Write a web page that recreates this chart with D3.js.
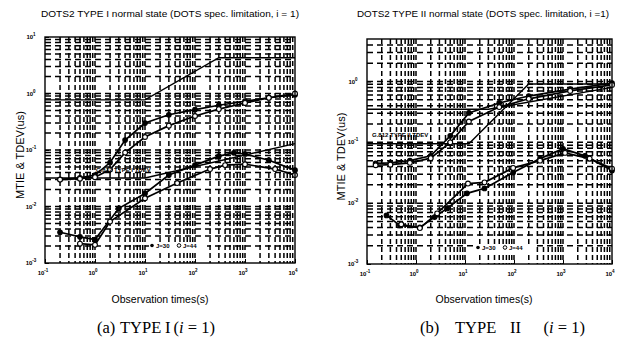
<!DOCTYPE html>
<html>
<head>
<meta charset="utf-8">
<script src="https://cdn.jsdelivr.net/npm/d3@7"></script>
<style>
  html, body { margin: 0; padding: 0; background: #fff; }
  svg { display: block; }
</style>
</head>
<body>
<svg id="chart" width="629" height="344"></svg>
<script>
// Observation-time ticks shared by both panels (seconds)
const xTickValues = [0.1, 1, 10, 100, 1000, 10000];
const xTickExponents = ["-1", "0", "1", "2", "3", "4"];

// ---- TYPE I (i = 1) ----
const t1YTickValues = [0.001, 0.01, 0.1, 1, 10];
const t1YTickExponents = ["-3", "-2", "-1", "0", "1"];

const t1MtieMaskTau = [0.1, 10, 300, 10000];
const t1MtieMask = [0.77, 0.77, 4.3, 4.3];
const t1TdevMaskTau = [0.1, 10, 10000];
const t1TdevMask = [0.032, 0.032, 0.13];

const t1MtieTau = [0.2, 0.5, 1, 2, 4, 10, 30, 100, 300, 1000, 3000, 10000];
const t1MtieJ30 = [0.03, 0.032, 0.036, 0.06, 0.15, 0.3, 0.42, 0.52, 0.62, 0.73, 0.84, 0.95];
const t1MtieJ44 = [0.03, 0.031, 0.033, 0.045, 0.09, 0.17, 0.27, 0.4, 0.53, 0.68, 0.84, 1.0];

const t1TdevJ30Tau = [0.2, 0.5, 1, 3, 10, 30, 100, 300, 600, 1000, 3000, 10000];
const t1TdevJ30 = [0.0035, 0.0029, 0.0026, 0.0093, 0.017, 0.036, 0.054, 0.078, 0.089, 0.085, 0.066, 0.044];
const t1TdevJ44Tau = [0.5, 1, 2, 10, 44, 200, 400, 1000, 4000, 10000];
const t1TdevJ44 = [0.0022, 0.0021, 0.0054, 0.014, 0.026, 0.046, 0.054, 0.056, 0.046, 0.036];

// ---- TYPE II (i = 1) ----
const t2YTickValues = [0.001, 0.01, 0.1, 1];
const t2YTickExponents = ["-3", "-2", "-1", "0"];

const t2MtieMaskTau = [0.1, 30, 10000];
const t2MtieMask = [0.35, 0.35, 0.8];
const t2TdevMaskTau = [0.1, 12, 200, 10000];
const t2TdevMask = [0.095, 0.095, 0.91, 0.91];

const t2MtieTau = [0.15, 0.3, 0.75, 2, 5, 12, 50, 200, 1400, 10000];
const t2MtieJ30 = [0.045, 0.046, 0.05, 0.06, 0.128, 0.305, 0.444, 0.577, 0.75, 0.94];
const t2MtieJ44 = [0.042, 0.043, 0.046, 0.055, 0.1, 0.22, 0.38, 0.52, 0.7, 0.88];

const t2TdevJ30Tau = [0.25, 0.47, 1.2, 2.4, 4.3, 11, 25, 96, 340, 1000, 2800, 10000];
const t2TdevJ30 = [0.0063, 0.0043, 0.004, 0.0059, 0.0082, 0.0145, 0.0175, 0.0318, 0.054, 0.0785, 0.06, 0.0344];
const t2TdevJ44Tau = [0.5, 1.2, 2.7, 11.5, 25, 96, 340, 1100, 3500, 10000];
const t2TdevJ44 = [0.0045, 0.0039, 0.0068, 0.021, 0.022, 0.038, 0.05, 0.067, 0.054, 0.037];

const svg = d3.select("#chart");
const sansFont = "'Liberation Sans', Arial, sans-serif";
const serifFont = "'Liberation Serif', 'DejaVu Serif', serif";

function zip(xs, ys) { return xs.map((x, i) => [x, ys[i]]); }

function drawPanel(p) {
  const x = d3.scaleLog().domain([0.1, 10000]).range([p.left, p.right]);
  const y = d3.scaleLog().domain(p.yDomain).range([p.bottom, p.top]);
  const g = svg.append("g");

  // dotted grid at every 1..9 x 10^k
  const xGrid = [];
  for (let e = -1; e < 4; e++) for (let m = 1; m < 10; m++) xGrid.push(m * Math.pow(10, e));
  const yGrid = [];
  for (let e = -3; e < 1; e++) for (let m = 1; m < 10; m++) {
    const v = m * Math.pow(10, e);
    if (v > p.yDomain[0] && v < p.yDomain[1]) yGrid.push(v);
  }
  g.append("g").selectAll("line").data(xGrid.filter(v => v > 0.1)).join("line")
    .attr("x1", d => x(d)).attr("x2", d => x(d))
    .attr("y1", p.top).attr("y2", p.bottom)
    .attr("stroke", "#000").attr("stroke-width", 1.5)
    .attr("stroke-dasharray", "5,3");
  g.append("g").selectAll("line").data(yGrid).join("line")
    .attr("x1", p.left).attr("x2", p.right)
    .attr("y1", d => y(d)).attr("y2", d => y(d))
    .attr("stroke", "#000").attr("stroke-width", 1.5)
    .attr("stroke-dasharray", "6,4");

  // axes with inward ticks, labelled 10^n
  const xAxis = d3.axisBottom(x).tickValues(xTickValues).tickSize(-4).tickFormat("");
  g.append("g").attr("transform", `translate(0,${p.bottom})`).call(xAxis)
    .call(s => s.select(".domain").remove());
  const yAxis = d3.axisLeft(y).tickValues(p.yTicks).tickSize(-4).tickFormat("");
  g.append("g").attr("transform", `translate(${p.left},0)`).call(yAxis)
    .call(s => s.select(".domain").remove());

  xTickValues.forEach((v, i) => {
    const t = g.append("text").attr("x", x(v) - 2).attr("y", p.bottom + 12)
      .attr("text-anchor", "middle").attr("font-family", sansFont)
      .attr("font-size", 6).attr("font-weight", "bold");
    t.append("tspan").text("10");
    t.append("tspan").attr("dy", -3).attr("font-size", 4.5).text(xTickExponents[i]);
  });
  p.yTicks.forEach((v, i) => {
    const t = g.append("text").attr("x", p.left - 14).attr("y", y(v) + 2)
      .attr("text-anchor", "middle").attr("font-family", sansFont)
      .attr("font-size", 6).attr("font-weight", "bold");
    t.append("tspan").text("10");
    t.append("tspan").attr("dy", -3).attr("font-size", 4.5).text(p.yTickExp[i]);
  });

  const line = d3.line().x(d => x(d[0])).y(d => y(d[1]));

  // specification masks
  p.masks.forEach(m => {
    g.append("path").datum(zip(m.tau, m.vals)).attr("d", line)
      .attr("fill", "none").attr("stroke", "#000").attr("stroke-width", 1.4);
  });

  // measured MTIE / TDEV curves
  p.series.forEach(s => {
    const pts = zip(s.tau, s.vals);
    g.append("path").datum(pts).attr("d", line)
      .attr("fill", "none").attr("stroke", "#000").attr("stroke-width", 1.7);
    g.append("g").selectAll("circle").data(pts).join("circle")
      .attr("cx", d => x(d[0])).attr("cy", d => y(d[1]))
      .attr("r", s.open ? 2.4 : 2.3)
      .attr("fill", s.open ? "#fff" : "#000")
      .attr("stroke", "#000").attr("stroke-width", 1.1);
  });

  // frame
  g.append("rect").attr("x", p.left).attr("y", p.top)
    .attr("width", p.right - p.left).attr("height", p.bottom - p.top)
    .attr("fill", "none").attr("stroke", "#000").attr("stroke-width", 1.4);

  // mask label
  g.append("text").attr("x", p.maskLabel[0]).attr("y", p.maskLabel[1])
    .attr("font-family", sansFont).attr("font-size", 6).attr("font-weight", "bold")
    .text(p.maskLabelText);

  // legend
  const lg = g.append("g").attr("transform", `translate(${p.legend[0]},${p.legend[1]})`)
    .attr("font-family", sansFont).attr("font-size", 6).attr("font-weight", "bold");
  lg.append("rect").attr("x", -3).attr("y", -5).attr("width", 58).attr("height", 8).attr("fill", "#fff");
  lg.append("circle").attr("cx", 0).attr("cy", -1.5).attr("r", 1.8).attr("fill", "#000");
  lg.append("text").attr("x", 4).attr("y", 0.5).text("J=30");
  lg.append("circle").attr("cx", 27).attr("cy", -1.5).attr("r", 1.8).attr("fill", "#fff").attr("stroke", "#000");
  lg.append("text").attr("x", 31).attr("y", 0.5).text("J=44");

  // titles and axis labels
  svg.append("text").attr("x", p.titleX).attr("y", 17).attr("text-anchor", "middle")
    .attr("font-family", "'Liberation Sans Narrow', 'Liberation Sans', Arial, sans-serif")
    .attr("font-size", 9.5).attr("textLength", p.titleLen).attr("lengthAdjust", "spacingAndGlyphs")
    .text(p.title);
  svg.append("text").attr("transform", `translate(${p.yLabelX},${(p.top + p.bottom) / 2 + 5}) rotate(-90)`)
    .attr("text-anchor", "middle").attr("font-family", sansFont).attr("font-size", 11)
    .text("MTIE & TDEV(us)");
  svg.append("text").attr("x", p.xLabelX).attr("y", 303).attr("text-anchor", "middle")
    .attr("font-family", sansFont).attr("font-size", 10.5).text("Observation times(s)");

  // caption, set word by word
  const capY = 333;
  const capSize = 16.5;
  p.capWords.forEach((w, i) => {
    svg.append("text").attr("x", p.capX[i]).attr("y", capY)
      .attr("font-family", serifFont).attr("font-size", capSize).text(w);
  });
  const c = svg.append("text").attr("x", p.capEnd).attr("y", capY).attr("text-anchor", "end")
    .attr("font-family", serifFont).attr("font-size", capSize);
  c.append("tspan").text("(");
  c.append("tspan").attr("font-style", "italic").text("i");
  c.append("tspan").text(" = 1)");
}

drawPanel({
  left: 45, right: 295, top: 37, bottom: 263,
  yDomain: [0.001, 10], yTicks: t1YTickValues, yTickExp: t1YTickExponents,
  masks: [
    { tau: t1MtieMaskTau, vals: t1MtieMask },
    { tau: t1TdevMaskTau, vals: t1TdevMask }
  ],
  series: [
    { tau: t1MtieTau, vals: t1MtieJ30, open: false },
    { tau: t1MtieTau, vals: t1MtieJ44, open: true },
    { tau: t1TdevJ30Tau, vals: t1TdevJ30, open: false },
    { tau: t1TdevJ44Tau, vals: t1TdevJ44, open: true }
  ],
  maskLabel: [96, 172], maskLabelText: "G.812 TYPE I TDEV",
  legend: [152, 247],
  title: "DOTS2 TYPE I normal state (DOTS spec. limitation, i = 1)", titleX: 170, titleLen: 258,
  yLabelX: 24, xLabelX: 160,
  capWords: ["(a)", "TYPE", "I"], capX: [97, 120, 165], capEnd: 215
});

drawPanel({
  left: 367, right: 612, top: 39, bottom: 264,
  yDomain: [0.001, 5], yTicks: t2YTickValues, yTickExp: t2YTickExponents,
  masks: [
    { tau: t2MtieMaskTau, vals: t2MtieMask },
    { tau: t2TdevMaskTau, vals: t2TdevMask }
  ],
  series: [
    { tau: t2MtieTau, vals: t2MtieJ30, open: false },
    { tau: t2MtieTau, vals: t2MtieJ44, open: true },
    { tau: t2TdevJ30Tau, vals: t2TdevJ30, open: false },
    { tau: t2TdevJ44Tau, vals: t2TdevJ44, open: true }
  ],
  maskLabel: [372, 137], maskLabelText: "G.812 TYPE II TDEV",
  legend: [478, 249],
  title: "DOTS2 TYPE II normal state (DOTS spec. limitation, i =1)", titleX: 483, titleLen: 252,
  yLabelX: 345, xLabelX: 484,
  capWords: ["(b)", "TYPE", "II"], capX: [420, 455, 510], capEnd: 585
});
</script>
</body>
</html>
